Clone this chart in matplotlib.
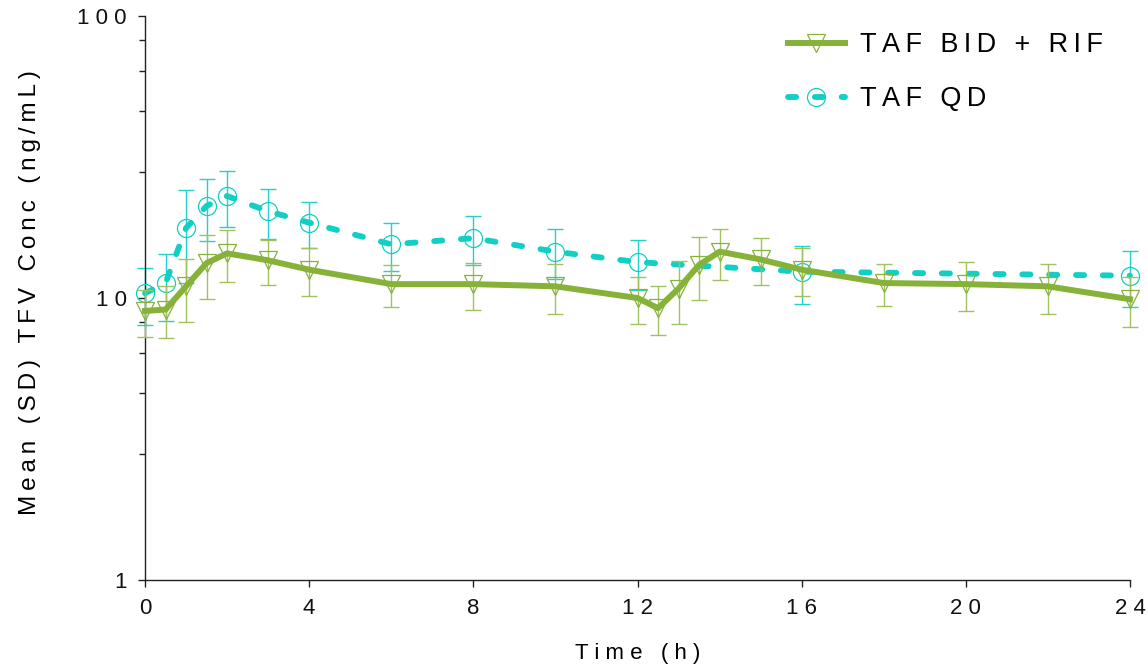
import matplotlib
matplotlib.use("Agg")
from matplotlib import pyplot as plt
from matplotlib.lines import Line2D
from matplotlib.ticker import FixedLocator, FixedFormatter, NullFormatter

plt.rcParams['font.family'] = ['Liberation Sans', 'DejaVu Sans']

# TAF BID + RIF
bid_t = [0, 0.5, 1, 1.5, 2, 3, 4, 6, 8, 10, 12, 12.5, 13, 13.5, 14, 15, 16, 18, 20, 22, 24]
bid_mean = [9.0, 9.1, 11.0, 13.3, 14.4, 13.6, 12.6, 11.2, 11.2, 11.0, 10.0, 9.2, 10.8, 13.1, 14.6,
            13.7, 12.6, 11.3, 11.2, 11.0, 9.9]
bid_sd = [1.7, 1.9, 2.8, 3.4, 3.0, 2.5, 2.4, 1.9, 2.1, 2.2, 1.9, 1.8, 2.7, 3.3, 3.0,
          2.6, 2.4, 1.95, 2.2, 2.2, 2.0]

# TAF QD
qd_t = [0, 0.5, 1, 1.5, 2, 3, 4, 6, 8, 10, 12, 16, 24]
qd_mean = [10.4, 11.3, 17.7, 21.2, 23.0, 20.3, 18.5, 15.5, 16.3, 14.6, 13.4, 12.4, 12.0]
qd_sd = [2.4, 3.0, 6.4, 5.3, 5.1, 4.1, 3.4, 3.0, 3.2, 2.9, 2.7, 2.9, 2.7]

x_ticks = [0, 4, 8, 12, 16, 20, 24]
y_ticks = [1, 10, 100]
y_minor = [2.8, 4.6, 6.4, 8.2, 28, 46, 64, 82]

GREEN = '#86b23a'
GREEN_ERR = '#9fc25e'
TEAL = '#12cfc5'
TEAL_ERR = '#22d2ca'


def spaced(s, sep=" "):
    # 原图的文字字母间距很宽，用空格模拟
    return sep.join(s)


def main():
    fig = plt.figure(figsize=(11.48, 6.68), dpi=100)
    ax = fig.add_axes([145 / 1148, 1 - 580 / 668, 985 / 1148, 564 / 668])

    # QD 先画，BID 在上面
    ax.errorbar(qd_t, qd_mean, yerr=qd_sd, fmt='none', ecolor=TEAL_ERR,
                elinewidth=1.0, capsize=6, capthick=1.0, clip_on=False, zorder=2)
    ax.plot(qd_t, qd_mean, color=TEAL, linewidth=4.2, dashes=(1.4, 3.2),
            dash_capstyle='round', marker='o', markersize=13,
            markerfacecolor='none', markeredgecolor=TEAL, markeredgewidth=0.9,
            clip_on=False, zorder=3)

    ax.errorbar(bid_t, bid_mean, yerr=bid_sd, fmt='none', ecolor=GREEN_ERR,
                elinewidth=1.0, capsize=6, capthick=1.0, clip_on=False, zorder=4)
    ax.plot(bid_t, bid_mean, color=GREEN, linewidth=4.3, marker='v', markersize=13,
            markerfacecolor='none', markeredgecolor=GREEN, markeredgewidth=0.9,
            clip_on=False, zorder=5)

    ax.set_yscale('log')
    ax.set_xlim(0, 24)
    ax.set_ylim(1, 100)

    ax.xaxis.set_major_locator(FixedLocator(x_ticks))
    ax.xaxis.set_major_formatter(FixedFormatter([spaced(str(v)) for v in x_ticks]))
    ax.yaxis.set_major_locator(FixedLocator(y_ticks))
    ax.yaxis.set_major_formatter(FixedFormatter([spaced(str(v)) for v in y_ticks]))
    ax.yaxis.set_minor_locator(FixedLocator(y_minor))
    ax.yaxis.set_minor_formatter(NullFormatter())
    ax.xaxis.set_minor_locator(FixedLocator([]))

    for side in ['top', 'right']:
        ax.spines[side].set_visible(False)
    for side in ['left', 'bottom']:
        ax.spines[side].set_linewidth(1.0)
        ax.spines[side].set_color('#222222')

    ax.tick_params(axis='both', which='major', direction='out', length=5, width=1.0,
                   color='#222222', labelsize=16, labelcolor='#111111', pad=8)
    ax.tick_params(axis='y', which='minor', direction='out', length=4, width=1.0,
                   color='#222222')

    ax.set_xlabel(spaced("Time (h)"), fontsize=16, labelpad=17)
    ax.set_ylabel(spaced("Mean (SD) TFV Conc (ng/mL)", "\u2009"), fontsize=17.5)
    ax.yaxis.set_label_coords(-0.106, 0.51)

    handles = [
        Line2D([], [], color=GREEN, linewidth=4.3, marker='v', markersize=13,
               markerfacecolor='none', markeredgecolor=GREEN, markeredgewidth=0.9),
        Line2D([], [], color=TEAL, linewidth=4.2, dashes=(1.4, 3.2), dash_capstyle='round',
               marker='o', markersize=13, markerfacecolor='none',
               markeredgecolor=TEAL, markeredgewidth=0.9),
    ]
    fig.legend(handles, [spaced("TAF BID + RIF", "\u2009"), spaced("TAF QD", "\u2009")],
               loc='upper left', bbox_to_anchor=(788 / 1148, 1 - 32 / 668),
               frameon=False, fontsize=19.5, handlelength=2.1, handletextpad=0.55,
               labelspacing=1.05, borderpad=0, borderaxespad=0)

    plt.savefig("out.png", dpi=100)


if __name__ == "__main__":
    main()
